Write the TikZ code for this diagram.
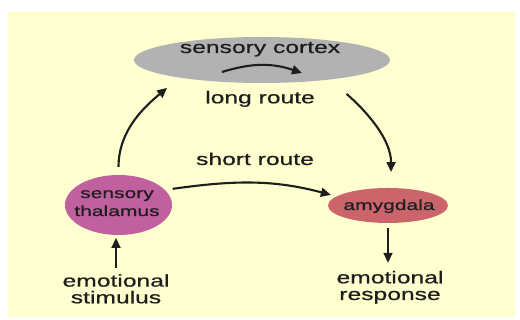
\documentclass[tikz,border=0pt]{standalone}
\usepackage{fontspec}
\setmainfont{Liberation Sans}[FakeStretch=1.45,FakeBold=0.7]
\usetikzlibrary{arrows.meta,shapes.geometric}
\definecolor{cream}{RGB}{255,255,208}
\definecolor{ink}{RGB}{30,30,30}
\definecolor{cortexgray}{RGB}{178,178,178}
\definecolor{thalpink}{RGB}{192,96,158}
\definecolor{amygred}{RGB}{204,100,108}
\begin{document}
\begin{tikzpicture}[x=1pt,y=1pt,
  lbl/.style={font=\fontsize{17}{16.7}\selectfont, text=ink, inner sep=0pt, anchor=base, align=center},
  inlbl/.style={font=\fontsize{14.5}{18}\selectfont, text=ink, inner sep=0pt, anchor=base, align=center},
  blob/.style={ellipse, inner sep=0pt, outer sep=0pt, draw=none},
  arr/.style={-{Triangle[length=10pt,width=9pt]}, line width=2.1pt, draw=ink}]
\useasboundingbox (0,0) rectangle (520,320);
\fill[white] (0,0) rectangle (520,320);
\fill[cream] (8,3) rectangle (515,308);

% brain regions
\node[blob, fill=cortexgray, minimum width=256pt, minimum height=46pt] (cortex) at (262,260) {};
\node[blob, fill=thalpink, minimum width=107pt, minimum height=60pt] (thal) at (118.5,115) {};
\node[blob, fill=amygred, minimum width=120pt, minimum height=35pt] (amyg) at (388,114.5) {};

% texts (multi-line nodes sit on the baseline of their last line)
\node[lbl] (cortexlabel) at (260,267) {sensory cortex};
\node[inlbl] (thaltext) at (117,104) {sensory\\thalamus};
\node[inlbl] (amygtext) at (389,110) {amygdala};
\node[lbl] (longlabel) at (260,216.7) {long route};
\node[lbl] (shortlabel) at (255,155) {short route};
\node[lbl] (stim) at (116,16.7) {emotional\\stimulus};
\node[lbl] (resp) at (390,20) {emotional\\response};

% arrow inside the cortex
\coordinate (ca) at ([shift={(-40,-12)}]cortex.center);
\coordinate (cb) at ([shift={(40,-13)}]cortex.center);
\draw[arr] (ca) to[bend left=18] (cb);

% long route
\draw[arr, shorten <=8pt, shorten >=16pt] (thal.north) to[out=90, in=220] (cortex.192);
\draw[arr, shorten <=22pt, shorten >=16pt] (cortex.344) to[out=-41, in=90] (amyg.80);

% short route
\draw[arr, shorten <=8pt, shorten >=6pt] (thal.18) to[out=8, in=165] (amyg.170);

% input and output
\draw[arr, shorten >=3pt] ([yshift=6pt]stim.north) -- (stim.north |- thal.south);
\draw[arr, shorten <=5pt, shorten >=8pt] (amyg.south) -- (amyg.south |- resp.north);
\end{tikzpicture}
\end{document}
